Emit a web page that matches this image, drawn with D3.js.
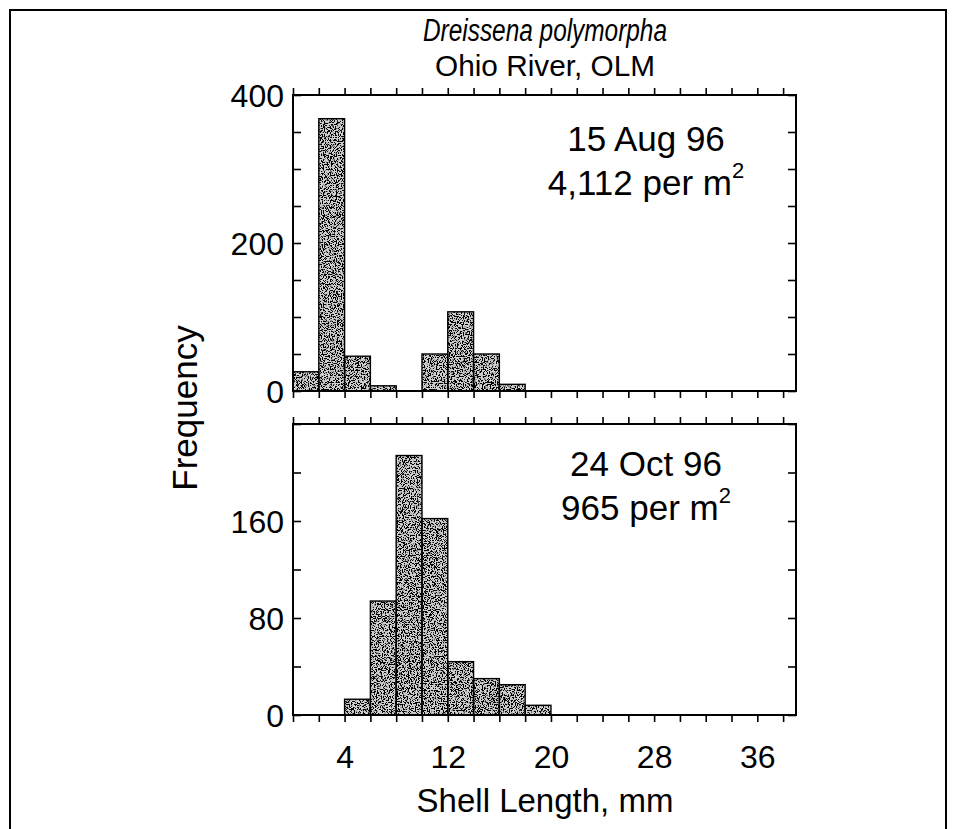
<!DOCTYPE html>
<html>
<head>
<meta charset="utf-8">
<script src="https://cdn.jsdelivr.net/npm/d3@7"></script>
<style>
  html, body { margin: 0; padding: 0; background: #fff; }
  svg { display: block; font-family: "Liberation Sans", Arial, sans-serif; }
</style>
</head>
<body>
<svg id="chart" width="956" height="829"></svg>
<script>
// ---- data ----
const binStarts = [0, 2, 4, 6, 8, 10, 12, 14, 16, 18];
const binWidth = 2;
const augFreq = [26, 368, 47, 7, 0, 50, 107, 50, 9, 0];
const octFreq = [0, 0, 13, 94, 214, 162, 44, 30, 25, 8];
const xTickLabels = [4, 12, 20, 28, 36];
const augTickLabels = [0, 200, 400];
const octTickLabels = [0, 80, 160];
const titleLine1 = "Dreissena polymorpha";
const titleLine2 = "Ohio River, OLM";
const augNote = ["15 Aug 96", "4,112 per m"];
const octNote = ["24 Oct 96", "965 per m"];

const svg = d3.select("#chart");
const W = 956, H = 829;

// stipple texture filter
const defs = svg.append("defs");
const f = defs.append("filter").attr("id", "stip")
  .attr("x", 0).attr("y", 0).attr("width", 1).attr("height", 1);
f.append("feTurbulence").attr("type", "fractalNoise").attr("baseFrequency", 0.85)
  .attr("numOctaves", 2).attr("seed", 7).attr("result", "n");
f.append("feColorMatrix").attr("in", "n").attr("type", "matrix")
  .attr("values", "0 0 0 0 0  0 0 0 0 0  0 0 0 0 0  0 0 0 -14 7.2").attr("result", "dots");
f.append("feComposite").attr("in", "dots").attr("in2", "SourceGraphic").attr("operator", "in").attr("result", "d2");
const fm = f.append("feMerge");
fm.append("feMergeNode").attr("in", "SourceGraphic");
fm.append("feMergeNode").attr("in", "d2");

// outer frame
svg.append("path")
  .attr("d", `M10,${H + 5} L10,10 L946,10 L946,${H + 5}`)
  .attr("fill", "none").attr("stroke", "#000").attr("stroke-width", 2);

// titles
svg.append("text").attr("x", 545).attr("y", 41).attr("text-anchor", "middle")
  .attr("font-size", 31).attr("font-style", "italic")
  .attr("textLength", 244).attr("lengthAdjust", "spacingAndGlyphs").text(titleLine1);
svg.append("text").attr("x", 545).attr("y", 76).attr("text-anchor", "middle")
  .attr("font-size", 30).attr("textLength", 220).attr("lengthAdjust", "spacingAndGlyphs")
  .text(titleLine2);

const x = d3.scaleLinear().domain([0, 39]).range([293, 796]);
const xTickVals = d3.range(0, 39, 2);

function panel(y, yMax, step, freq, tickLabels, note, noteY, showXLabels) {
  const g = svg.append("g");
  const yTickVals = d3.range(0, yMax + 1, step);

  // bars
  const data = binStarts.map((b, i) => ({ b, v: freq[i] })).filter(d => d.v > 0);
  g.append("g").selectAll("rect").data(data).join("rect")
    .attr("x", d => x(d.b)).attr("width", d => x(d.b + binWidth) - x(d.b))
    .attr("y", d => y(d.v)).attr("height", d => y(0) - y(d.v))
    .attr("fill", "#cfcfcf").attr("filter", "url(#stip)");
  g.append("g").selectAll("rect").data(data).join("rect")
    .attr("x", d => x(d.b)).attr("width", d => x(d.b + binWidth) - x(d.b))
    .attr("y", d => y(d.v)).attr("height", d => y(0) - y(d.v))
    .attr("fill", "none").attr("stroke", "#000").attr("stroke-width", 1.4);

  // axes
  const left = g.append("g").attr("transform", `translate(${x(0)},0)`)
    .call(d3.axisLeft(y).tickValues(yTickVals).tickSize(-8).tickPadding(9)
      .tickFormat(d => tickLabels.includes(d) ? d : ""));
  const right = g.append("g").attr("transform", `translate(${x(39)},0)`)
    .call(d3.axisRight(y).tickValues(yTickVals).tickSize(-8).tickFormat(""));
  const top = g.append("g").attr("transform", `translate(0,${y(yMax)})`)
    .call(d3.axisTop(x).tickValues(xTickVals).tickSize(7).tickFormat(""));
  const bottom = g.append("g").attr("transform", `translate(0,${y(0)})`)
    .call(d3.axisBottom(x).tickValues(xTickVals).tickSize(7).tickPadding(23)
      .tickFormat(d => showXLabels && xTickLabels.includes(d) ? d : ""));
  [left, right, top, bottom].forEach(a => {
    a.select(".domain").remove();
    a.selectAll("line").attr("stroke", "#000").attr("stroke-width", 1.6);
    a.selectAll("text").attr("font-size", 32).attr("fill", "#000")
      .attr("font-family", "Liberation Sans, Arial, sans-serif");
  });
  left.selectAll("text").attr("dy", "0.35em");

  // frame
  g.append("rect").attr("x", x(0)).attr("y", y(yMax))
    .attr("width", x(39) - x(0)).attr("height", y(0) - y(yMax))
    .attr("fill", "none").attr("stroke", "#000").attr("stroke-width", 2);

  // annotation
  g.append("text").attr("x", 646).attr("y", noteY).attr("text-anchor", "middle")
    .attr("font-size", 35).text(note[0]);
  const t2 = g.append("text").attr("x", 646).attr("y", noteY + 44).attr("text-anchor", "middle")
    .attr("font-size", 35);
  t2.append("tspan").text(note[1]);
  t2.append("tspan").attr("dy", -17).attr("font-size", 22).text("2");
}

panel(d3.scaleLinear().domain([0, 400]).range([391, 95]), 400, 50, augFreq, augTickLabels, augNote, 151, false);
panel(d3.scaleLinear().domain([0, 240]).range([715, 424]), 240, 40, octFreq, octTickLabels, octNote, 476, true);

// axis titles
svg.append("text").attr("transform", "translate(197,408) rotate(-90)")
  .attr("text-anchor", "middle").attr("font-size", 35).text("Frequency");
svg.append("text").attr("x", 545).attr("y", 812).attr("text-anchor", "middle")
  .attr("font-size", 33).text("Shell Length, mm");
</script>
</body>
</html>
